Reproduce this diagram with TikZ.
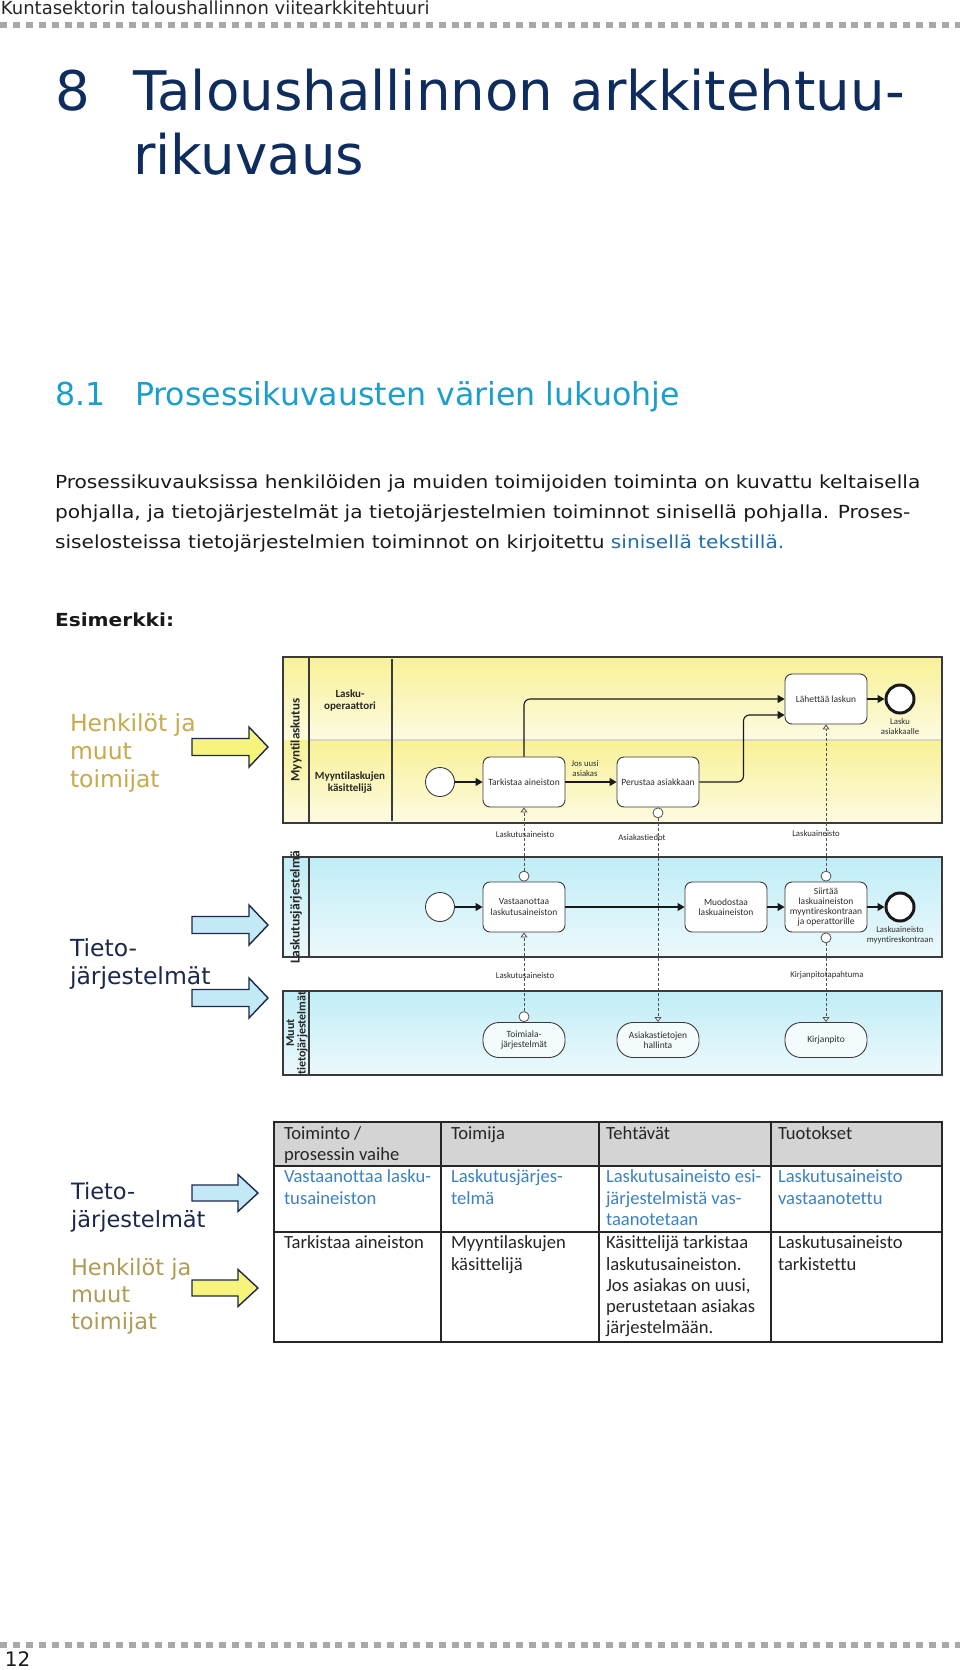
\documentclass[tikz,border=0pt]{standalone}
\usepackage{fontspec}
\setmainfont{DejaVu Sans}
\newfontfamily\carl[Ligatures=NoCommon]{Carlito}
\newfontfamily\bodyf[FakeStretch=1.12]{DejaVu Sans}
\usetikzlibrary{arrows.meta}
\definecolor{titleblue}{RGB}{14,44,94}
\definecolor{secblue}{RGB}{28,158,204}
\definecolor{linkblue}{RGB}{30,110,170}
\definecolor{dotgray}{RGB}{168,168,168}
\definecolor{gold}{RGB}{200,170,75}
\definecolor{goldb}{RGB}{175,155,85}
\definecolor{navy}{RGB}{28,40,75}
\definecolor{arrowyel}{RGB}{246,244,125}
\definecolor{arrowblue}{RGB}{195,232,246}
\definecolor{yeltop}{RGB}{248,241,150}
\definecolor{yelbot}{RGB}{253,251,226}
\definecolor{bluetop}{RGB}{192,237,247}
\definecolor{bluebot}{RGB}{236,249,252}
\definecolor{poolline}{RGB}{58,58,58}
\definecolor{dtext}{RGB}{45,45,45}
\definecolor{msgline}{RGB}{80,80,80}
\definecolor{hdrgray}{RGB}{212,212,212}
\definecolor{tblue}{RGB}{60,130,195}
\definecolor{divline}{RGB}{215,215,200}
\newcommand\setfs[2]{\fontsize{#1}{#2}\selectfont}
\newcounter{tlc}
\newcommand\putline[4][]{\stepcounter{tlc}\node[txt,#1] (tl\thetlc) at (#2,#3) {#4};}
\tikzset{
  txt/.style={anchor=base west, inner sep=0pt, outer sep=0pt},
  body/.style={font=\bodyf\setfs{18}{20}, text=black!90},
  side/.style={font=\setfs{23.5}{26}},
  sidesm/.style={font=\setfs{22.5}{25}},
  tcell/.style={font=\carl\setfs{18.6}{21}, text=black!85},
  tcellb/.style={font=\carl\setfs{18.6}{21}, text=tblue},
  pool/.style={draw=poolline, line width=1.3pt},
  task/.style={draw=poolline, fill=white, rounded corners=7pt, minimum width=82pt, minimum height=50pt, align=center, inner sep=1pt, font=\carl\setfs{9.5}{10.3}, text=dtext, line width=0.9pt},
  sysbox/.style={task, rounded corners=16pt, minimum height=35pt, fill={rgb,255:red,244;green,251;blue,253}},
  startev/.style={circle, draw=poolline, fill=white, minimum size=29pt, inner sep=0pt, line width=0.9pt},
  endev/.style={circle, draw=black!90, fill=white, minimum size=28pt, inner sep=0pt, line width=3pt},
  msgc/.style={circle, draw=msgline, fill=white, minimum size=10pt, inner sep=0pt, line width=0.8pt},
  lbl/.style={font=\carl\setfs{8.7}{10}, text=dtext, align=center, inner sep=0pt},
  plabel/.style={font=\carl\bfseries\setfs{13}{12}, text=black!85, align=center, inner sep=0pt},
  llabel/.style={font=\carl\bfseries\setfs{11}{12}, text=black!85, align=center, inner sep=0pt},
  seq/.style={draw=black!90, line width=1.1pt, -{Triangle[length=7pt,width=8pt]}},
  msg/.style={draw=msgline, line width=0.8pt, dash pattern=on 3pt off 2pt, -{Triangle[open,length=5pt,width=7pt,fill=white]}},
  tbl/.style={draw=black!85, line width=1.3pt},
  bigarrow/.pic={\path[pic actions] (0,-8.5) -- (57,-8.5) -- (57,-20) -- (76,0) -- (57,20) -- (57,8.5) -- (0,8.5) -- cycle;},
  smallarrow/.pic={\path[pic actions] (0,-8) -- (46,-8) -- (46,-18.5) -- (66,0) -- (46,18.5) -- (46,8) -- (0,8) -- cycle;}
}
\begin{document}
\begin{tikzpicture}[x=1pt,y=-1pt]
\useasboundingbox (0,0) rectangle (960,1670);
\fill[white] (0,0) rectangle (960,1670);

% header
\putline[font=\setfs{18}{20}, text=black!85]{1}{15}{Kuntasektorin taloushallinnon viitearkkitehtuuri}
\draw[dotgray, line width=6pt, dash pattern=on 7pt off 5.9pt] (0,25.5) -- (960,25.5);

% title
\putline[font=\setfs{54.6}{60}, text=titleblue]{55}{110}{8}
\putline[font=\setfs{54.6}{60}, text=titleblue]{133}{110}{Taloushallinnon arkkitehtuu-}
\putline[font=\setfs{54.6}{60}, text=titleblue]{133}{174}{rikuvaus}

% section
\putline[font=\setfs{31.6}{34}, text=secblue]{55}{405}{8.1}
\putline[font=\setfs{31.6}{34}, text=secblue]{135}{405}{Prosessikuvausten värien lukuohje}

% body
\putline[body]{55}{488}{Prosessikuvauksissa henkilöiden ja muiden toimijoiden toiminta on kuvattu keltaisella}
\putline[body]{55}{518}{pohjalla, ja tietojärjestelmät ja tietojärjestelmien toiminnot sinisellä pohjalla. Proses-}
\putline[body]{55}{548}{siselosteissa tietojärjestelmien toiminnot on kirjoitettu {\color{linkblue}sinisellä tekstillä.}}
\putline[body, font=\bodyf\bfseries\setfs{18}{20}]{55}{626}{Esimerkki:}

% left side labels (upper)
\putline[side, text=gold]{70}{731}{Henkilöt ja}
\putline[side, text=gold]{70}{759}{muut}
\putline[side, text=gold]{70}{787}{toimijat}
\putline[side, text=navy]{70}{956}{Tieto-}
\putline[side, text=navy]{70}{984}{järjestelmät}
\pic[draw=navy, fill=arrowyel, line width=1.4pt] (a1) at (192,747) {bigarrow};
\pic[draw=navy, fill=arrowblue, line width=1.4pt] (a2) at (192,925) {bigarrow};
\pic[draw=navy, fill=arrowblue, line width=1.4pt] (a3) at (192,998) {bigarrow};

% pools backgrounds
\fill[top color=yeltop, bottom color=yelbot] (283,657) rectangle (942,740);
\fill[top color=yeltop, bottom color=yelbot] (283,740) rectangle (942,823);
\draw[divline, line width=1.2pt] (309,740) -- (942,740);
\draw[pool] (283,657) rectangle (942,823);
\draw[pool] (309,657) -- (309,823);
\draw[pool] (392,659) -- (392,821);

\fill[top color=bluetop, bottom color=bluebot] (283,857) rectangle (942,957);
\draw[pool] (283,857) rectangle (942,957);
\draw[pool] (309,857) -- (309,957);

\fill[top color=bluetop, bottom color=bluebot] (283,991) rectangle (942,1075);
\draw[pool] (283,991) rectangle (942,1075);
\draw[pool] (309,991) -- (309,1075);

% pool and lane labels
\node[plabel, rotate=90] (pl1) at (296,740) {Myyntilaskutus};
\node[plabel, rotate=90, font=\carl\bfseries\setfs{13.6}{12}] (pl2) at (296,907) {Laskutusjärjestelmä};
\node[plabel, rotate=90, font=\carl\bfseries\setfs{12}{11.5}] (pl3) at (297,1033) {Muut\\tietojärjestelmät};
\node[llabel] (ll1) at (350,700) {Lasku-\\operaattori};
\node[llabel] (ll2) at (350,783) {Myyntilaskujen\\käsittelijä};

% process nodes
\node[startev] (s1) at (440,782) {};
\node[task] (tark) at (524,782) {Tarkistaa aineiston};
\node[task] (perus) at (658,782) {Perustaa asiakkaan};
\node[task] (lahet) at (826,699) {Lähettää laskun};
\node[endev] (e1) at (900,699) {};
\node[lbl] (e1l) at (900,727) {Lasku\\asiakkaalle};
\node[lbl] (jos) at (585,769) {Jos uusi\\asiakas};

\node[startev] (s2) at (440,907) {};
\node[task] (vast) at (524,907) {Vastaanottaa\\laskutusaineiston};
\node[task] (muod) at (726,907) {Muodostaa\\laskuaineiston};
\node[task] (siir) at (826,907) {Siirtää\\laskuaineiston\\myyntireskontraan\\ja operattorille};
\node[endev] (e2) at (900,907) {};
\node[lbl] (e2l) at (900,935) {Laskuaineisto\\myyntireskontraan};

\node[sysbox] (toim) at (524,1040) {Toimiala-\\järjestelmät};
\node[sysbox] (asiak) at (658,1040) {Asiakastietojen\\hallinta};
\node[sysbox] (kirj) at (826,1040) {Kirjanpito};

% sequence flows
\draw[seq] (s1) -- (tark);
\draw[seq] (tark) -- (perus);
\draw[seq, rounded corners=6pt] (tark.north) |- (lahet.west);
\coordinate (lowin) at ([yshift=-16pt]lahet.west);
\draw[seq, rounded corners=6pt] (perus.east) -- ++(44,0) |- (lowin);
\draw[seq] (lahet) -- (e1);
\draw[seq] (s2) -- (vast);
\draw[seq] (vast) -- (muod);
\draw[seq] (muod) -- (siir);
\draw[seq] (siir) -- (e2);

% message flows
\node[msgc, anchor=south] (c1) at (vast.north) {};
\node[msgc, anchor=north] (c2) at (perus.south) {};
\node[msgc, anchor=south] (c3) at (siir.north) {};
\node[msgc, anchor=south] (c4) at (toim.north) {};
\node[msgc, anchor=north] (c5) at (siir.south) {};
\draw[msg] (c1) -- (tark.south);
\draw[msg] (c2) -- (asiak.north);
\draw[msg] (c3) -- (lahet.south);
\draw[msg] (c4) -- (vast.south);
\draw[msg] (c5) -- (kirj.north);
\node[lbl] (m1) at (525,835) {Laskutusaineisto};
\node[lbl] (m2) at (642,838) {Asiakastiedot};
\node[lbl] (m3) at (816,834) {Laskuaineisto};
\node[lbl] (m4) at (525,975) {Laskutusaineisto};
\node[lbl] (m5) at (827,975) {Kirjanpitotapahtuma};

% lower side labels
\putline[sidesm, text=navy]{71}{1199}{Tieto-}
\putline[sidesm, text=navy]{71}{1227}{järjestelmät}
\putline[sidesm, text=goldb]{71}{1275}{Henkilöt ja}
\putline[sidesm, text=goldb]{71}{1302}{muut}
\putline[sidesm, text=goldb]{71}{1329}{toimijat}
\pic[draw=navy, fill=arrowblue, line width=1.4pt] (a4) at (192,1193) {smallarrow};
\pic[draw=navy, fill=arrowyel, line width=1.4pt] (a5) at (192,1288) {smallarrow};

% table
\fill[hdrgray] (274,1122) rectangle (942,1166);
\draw[tbl] (274,1122) rectangle (942,1342);
\draw[tbl] (274,1166) -- (942,1166);
\draw[tbl] (274,1232) -- (942,1232);
\draw[tbl] (441,1122) -- (441,1342);
\draw[tbl] (599,1122) -- (599,1342);
\draw[tbl] (771,1122) -- (771,1342);

\putline[tcell]{284}{1139}{Toiminto /}
\putline[tcell]{284}{1160}{prosessin vaihe}
\putline[tcell]{451}{1139}{Toimija}
\putline[tcell]{606}{1139}{Tehtävät}
\putline[tcell]{778}{1139}{Tuotokset}

\putline[tcellb]{284}{1182}{Vastaanottaa lasku-}
\putline[tcellb]{284}{1204}{tusaineiston}
\putline[tcellb]{451}{1182}{Laskutusjärjes-}
\putline[tcellb]{451}{1204}{telmä}
\putline[tcellb]{606}{1182}{Laskutusaineisto esi-}
\putline[tcellb]{606}{1204}{järjestelmistä vas-}
\putline[tcellb]{606}{1225}{taanotetaan}
\putline[tcellb]{778}{1182}{Laskutusaineisto}
\putline[tcellb]{778}{1204}{vastaanotettu}

\putline[tcell]{284}{1248}{Tarkistaa aineiston}
\putline[tcell]{451}{1248}{Myyntilaskujen}
\putline[tcell]{451}{1270}{käsittelijä}
\putline[tcell]{606}{1248}{Käsittelijä tarkistaa}
\putline[tcell]{606}{1270}{laskutusaineiston.}
\putline[tcell]{606}{1291}{Jos asiakas on uusi,}
\putline[tcell]{606}{1312}{perustetaan asiakas}
\putline[tcell]{606}{1333}{järjestelmään.}
\putline[tcell]{778}{1248}{Laskutusaineisto}
\putline[tcell]{778}{1270}{tarkistettu}

% footer
\draw[dotgray, line width=6pt, dash pattern=on 7pt off 5.9pt] (0,1645) -- (960,1645);
\putline[font=\setfs{20}{22}, text=black!90]{5}{1666}{12}
\end{tikzpicture}
\end{document}
